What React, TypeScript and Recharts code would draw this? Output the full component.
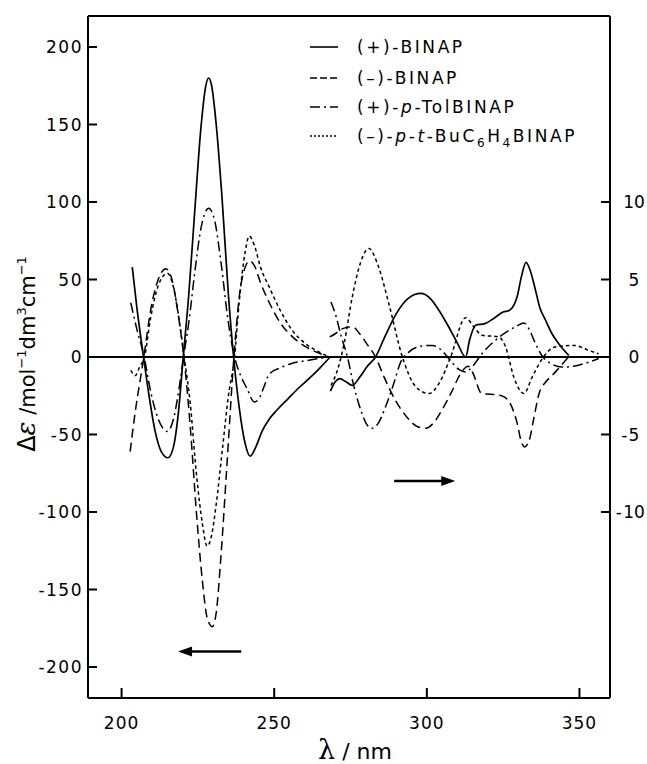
import React from 'react';
import { LineChart, Line, XAxis, YAxis, ReferenceLine, ReferenceDot } from 'recharts';

type Pt = [number, number];

// wavelength (nm) vs Δε, left part read on the left axis (200–268 nm)
const plusBinapUV: Pt[] = [
  [203.5, 58], [205, 32], [207.2, 0], [209, -25], [211, -48], [213, -61], [215.2, -65], [217, -58],
  [218.5, -38], [220.2, 0], [222, 40], [224, 95], [226, 148], [227.5, 174], [228.5, 180], [229.5, 175],
  [231, 150], [233, 100], [235, 40], [236.7, 0], [238.5, -32], [240.5, -56], [242.1, -64], [244, -58],
  [246, -48], [248.4, -40], [251, -34], [254.5, -27], [258, -20], [261.4, -14], [265, -7], [268.3, 0],
];
const minusBinapUV: Pt[] = [
  [202.8, -61], [204.5, -35], [207.3, 0], [209.5, 30], [212, 50], [214.5, 57], [216.5, 50], [218.5, 28],
  [220.4, 0], [222.5, -45], [224.5, -100], [226.5, -145], [228, -168], [229.7, -174], [231, -165],
  [232.5, -130], [234.5, -70], [236.8, 0], [238.5, 38], [240.5, 58], [242, 62], [243.5, 59], [245.5, 48],
  [248.4, 35], [252, 22], [256, 13], [260, 7], [264, 3], [268, 0],
];
const tolBinapUV: Pt[] = [
  [203, 35], [205, 18], [207.4, 0], [209.5, -22], [212, -40], [215, -48], [217, -40], [219, -18],
  [220.3, 0], [222, 22], [224, 55], [226, 83], [228.5, 96], [230.5, 88], [232.5, 62], [235, 22], [237, 0],
  [239, -12], [241, -20], [243.5, -29], [245, -27], [246.5, -20], [248.4, -11], [252, -7], [256, -4],
  [260, -2.5], [264, -1.2], [268, 0],
];
const tBuBinapUV: Pt[] = [
  [203, -8.6], [204.5, -12], [206, -6], [207.5, 0], [209.5, 25], [212, 46], [215, 54], [217, 45],
  [219, 22], [220.5, 0], [222.5, -30], [224.5, -75], [226.5, -108], [228, -122], [229.5, -115],
  [231, -95], [233, -60], [235, -25], [237, 0], [238.5, 35], [240.5, 68], [241.8, 78], [243.5, 72],
  [245.5, 58], [248.4, 45], [252, 30], [256, 17], [260, 9], [264, 4], [268, 0],
];

// right part read on the right axis (268–360 nm)
const plusBinapVis: Pt[] = [
  [268.4, -2.2], [270, -1.6], [271.5, -1.4], [273.5, -1.6], [275.6, -1.83], [278, -1.3], [280.5, -0.6],
  [283.2, 0], [286, 1.2], [290, 2.8], [294, 3.8], [298, 4.1], [301, 3.8], [304, 3.0], [307, 2.0],
  [310, 0.9], [312.7, 0], [314, 1.1], [316, 2.05], [319, 2.15], [322, 2.5], [325, 2.9], [327, 3.0],
  [329.6, 3.9], [331, 5.2], [332.5, 6.1], [334, 5.5], [335.6, 4.3], [337, 3.2], [338.9, 2.37],
  [341, 1.5], [343.2, 0.86], [346.5, 0.1],
];
const minusBinapVis: Pt[] = [
  [268.2, 1.3], [270, 1.5], [272, 1.8], [275.6, 1.95], [278, 1.5], [280.5, 0.8], [283.2, 0],
  [286, -1.3], [290, -2.9], [294, -4.0], [297, -4.5], [299.6, -4.6], [302, -4.3], [305, -3.4],
  [308, -2.3], [311, -1.1], [313.5, -0.6], [315, -1.0], [318, -2.36], [321, -2.4], [324.5, -2.5],
  [327, -2.9], [329.5, -4.2], [331, -5.5], [332, -5.8], [333.5, -5.4], [335, -4.0], [336.7, -2.4],
  [339, -1.6], [341, -1.2], [343.1, -0.75], [346.4, 0],
];
const tolBinapVis: Pt[] = [
  [268.6, 3.55], [270, 2.8], [272, 1.3], [274, 0], [276, -1.8], [278.5, -3.5], [280.5, -4.4],
  [282.1, -4.6], [284, -4.3], [286.5, -3.2], [289, -1.8], [291.5, -0.3], [294, 0.3], [298, 0.7],
  [301.8, 0.75], [305, 0.4], [308, -0.3], [310.5, -0.8], [312.7, -0.97], [315, -0.6], [318, 0.2],
  [322, 1.0], [326, 1.6], [329.5, 2.0], [331.8, 2.2], [333.5, 1.8], [335.5, 0.9], [338, 0],
  [340.5, -0.4], [344.3, -0.65], [348, -0.6], [352, -0.4], [356.3, -0.1],
];
const tBuBinapVis: Pt[] = [
  [268.6, -1.83], [270.7, -0.86], [272.9, 0.86], [275.6, 3.9], [278.3, 6.1], [281, 7.0], [284.2, 5.8],
  [287.6, 3.4], [292, 0], [296.3, -1.9], [300.7, -2.36], [304, -1.7], [307.8, 0], [312.7, 2.54],
  [315.4, 1.94], [318.1, 1.4], [323.5, 1.3], [325.8, 0.65], [328.5, -1.3], [331.8, -2.36],
  [334.5, -1.3], [338.2, 0], [342, 0.65], [348.1, 0.75], [353, 0.43], [356.3, 0.2],
];

const LEFT_TICKS = [-200, -150, -100, -50, 0, 50, 100, 150, 200];
const RIGHT_TICKS = [-10, -5, 0, 5, 10];
const X_TICKS = [200, 250, 300, 350];

const FONT = '"DejaVu Sans", sans-serif';

const SERIES = [
  { key: 'plus', dash: undefined as string | undefined, width: 1.7, uv: plusBinapUV, vis: plusBinapVis },
  { key: 'minus', dash: '9 5', width: 1.5, uv: minusBinapUV, vis: minusBinapVis },
  { key: 'tol', dash: '10 4 2 4', width: 1.5, uv: tolBinapUV, vis: tolBinapVis },
  { key: 'tbu', dash: '3.5 3', width: 1.5, uv: tBuBinapUV, vis: tBuBinapVis },
];

const rows = (pts: Pt[]) => pts.map(([x, y]) => ({ x, y }));

const LeftTick = (props: any) => {
  const { x, y, payload } = props;
  return (
    <g>
      <line x1={x} y1={y} x2={x + 9} y2={y} stroke="#000" strokeWidth={2} />
      <text x={x - 5} y={y} dy="0.36em" textAnchor="end" fontSize={17} letterSpacing={1.5} fontFamily={FONT} fill="#000">
        {payload.value}
      </text>
    </g>
  );
};

const RightTick = (props: any) => {
  const { x, y, payload } = props;
  const v = payload.value as number;
  const abs = Math.abs(v);
  const half = abs >= 10 ? 11 : 5.5;
  return (
    <g>
      <line x1={x} y1={y} x2={x - 9} y2={y} stroke="#000" strokeWidth={2} />
      <text x={x + 24} y={y} dy="0.36em" textAnchor="middle" fontSize={17} fontFamily={FONT} fill="#000">
        {abs}
      </text>
      {v < 0 && (
        <text x={x + 23 - half} y={y} dy="0.36em" textAnchor="end" fontSize={17} fontFamily={FONT} fill="#000">-</text>
      )}
    </g>
  );
};

const BottomTick = (props: any) => {
  const { x, y, payload } = props;
  return (
    <g>
      <line x1={x} y1={y} x2={x} y2={y - 10} stroke="#000" strokeWidth={2} />
      <text x={x} y={y + 25} dy="0.36em" textAnchor="middle" fontSize={17} letterSpacing={1} fontFamily={FONT} fill="#000">
        {payload.value}
      </text>
    </g>
  );
};

const ArrowHead = (dir: number) => (p: any) => {
  const { cx, cy } = p;
  return <polygon points={`${cx},${cy} ${cx - dir * 14},${cy - 5} ${cx - dir * 14},${cy + 5}`} fill="#000" />;
};

const LEGEND_Y = [47, 78, 107, 136];

export default function App() {
  const legendLabels = [
    <>(+)-BINAP</>,
    <>(–)-BINAP</>,
    <>(+)-<tspan fontStyle="italic">p</tspan>-TolBINAP</>,
    <>
      (–)-<tspan fontStyle="italic">p</tspan>-<tspan fontStyle="italic">t</tspan>-BuC
      <tspan fontSize={12} dy={5}>6</tspan>
      <tspan dy={-5}>H</tspan>
      <tspan fontSize={12} dy={5}>4</tspan>
      <tspan dy={-5}>BINAP</tspan>
    </>,
  ];

  return (
    <div style={{ position: 'absolute', left: 0, top: 0, width: 647, height: 764, background: '#fff' }}>
      <LineChart width={647} height={764} margin={{ top: 16, right: 0, bottom: 36, left: 0 }}>
        <XAxis
          dataKey="x"
          type="number"
          domain={[189, 360]}
          ticks={X_TICKS}
          height={30}
          tickSize={0}
          tickMargin={0}
          tick={<BottomTick />}
          axisLine={{ stroke: '#000', strokeWidth: 2 }}
          allowDataOverflow
        />
        <YAxis
          yAxisId="left"
          type="number"
          domain={[-220, 220]}
          ticks={LEFT_TICKS}
          width={88}
          tickSize={0}
          tickMargin={0}
          tick={<LeftTick />}
          axisLine={{ stroke: '#000', strokeWidth: 2 }}
          allowDataOverflow
        />
        <YAxis
          yAxisId="right"
          orientation="right"
          type="number"
          domain={[-22, 22]}
          ticks={RIGHT_TICKS}
          width={37}
          tickSize={0}
          tickMargin={0}
          tick={<RightTick />}
          axisLine={{ stroke: '#000', strokeWidth: 2 }}
          allowDataOverflow
        />
        <ReferenceLine yAxisId="left" y={220} stroke="#000" strokeWidth={2} />
        <ReferenceLine yAxisId="left" y={0} stroke="#000" strokeWidth={1.8} />

        {SERIES.map((s) => (
          <Line
            key={s.key + '-uv'}
            data={rows(s.uv)}
            dataKey="y"
            yAxisId="left"
            type="monotone"
            stroke="#000"
            strokeWidth={s.width}
            strokeDasharray={s.dash}
            dot={false}
            activeDot={false}
            isAnimationActive={false}
          />
        ))}
        {SERIES.map((s) => (
          <Line
            key={s.key + '-vis'}
            data={rows(s.vis)}
            dataKey="y"
            yAxisId="right"
            type="monotone"
            stroke="#000"
            strokeWidth={s.width}
            strokeDasharray={s.dash}
            dot={false}
            activeDot={false}
            isAnimationActive={false}
          />
        ))}

        <ReferenceLine
          yAxisId="left"
          segment={[{ x: 239.2, y: -190 }, { x: 222, y: -190 }]}
          stroke="#000"
          strokeWidth={2.5}
        />
        <ReferenceDot yAxisId="left" x={218.5} y={-190} shape={ArrowHead(-1)} />
        <ReferenceLine
          yAxisId="right"
          segment={[{ x: 289.3, y: -8 }, { x: 306, y: -8 }]}
          stroke="#000"
          strokeWidth={2.5}
        />
        <ReferenceDot yAxisId="right" x={309.3} y={-8} shape={ArrowHead(1)} />
      </LineChart>

      <svg
        width={647}
        height={764}
        style={{ position: 'absolute', left: 0, top: 0, pointerEvents: 'none' }}
      >
        {SERIES.map((s, i) => (
          <g key={s.key}>
            <line
              x1={310}
              y1={LEGEND_Y[i]}
              x2={338}
              y2={LEGEND_Y[i]}
              stroke="#000"
              strokeWidth={1.6}
              strokeDasharray={s.key === 'tbu' ? '2 2' : s.key === 'minus' ? '7 3' : s.dash}
            />
            <text x={357} y={LEGEND_Y[i]} dy="0.36em" fontSize={17} letterSpacing={2.6} fontFamily={FONT} fill="#000">
              {legendLabels[i]}
            </text>
          </g>
        ))}

        <text
          transform="translate(27,354) rotate(-90)"
          textAnchor="middle"
          dy="0.36em"
          fontSize={21}
          fontFamily={FONT}
          fill="#000"
        >
          <tspan fontSize={24}>Δ</tspan>
          <tspan fontSize={26} fontStyle="italic" fontFamily="'DejaVu Serif', serif">ε</tspan>
          <tspan> /</tspan>
          <tspan>mol</tspan>
          <tspan fontSize={13} dy={-9}>−1</tspan>
          <tspan dy={9}>dm</tspan>
          <tspan fontSize={13} dy={-9}>3</tspan>
          <tspan dy={9}>cm</tspan>
          <tspan fontSize={13} dy={-9}>−1</tspan>
        </text>

        <text x={355} y={759} textAnchor="middle" fontSize={22} fontFamily={FONT} fill="#000">
          <tspan fontSize={27} fontFamily="'DejaVu Serif', serif">λ</tspan>
          <tspan> / nm</tspan>
        </text>
      </svg>
    </div>
  );
}
